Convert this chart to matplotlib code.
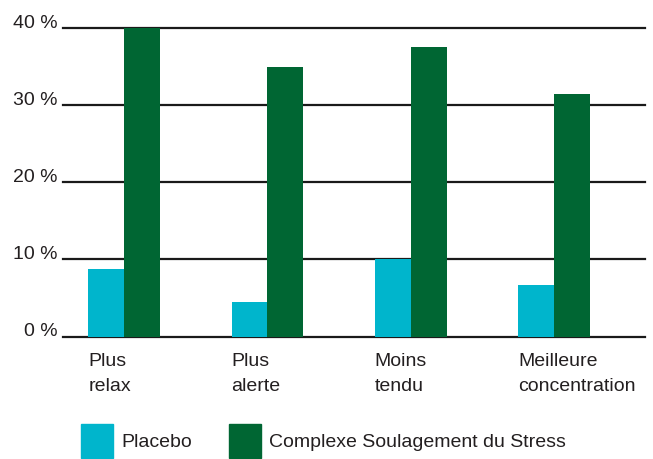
import numpy as np
import matplotlib
matplotlib.use('Agg')
import matplotlib.pyplot as plt
from matplotlib.patches import Patch

matplotlib.rc('font', family=['Liberation Sans', 'DejaVu Sans'])

categories = ['Plus\nrelax', 'Plus\nalerte', 'Moins\ntendu', 'Meilleure\nconcentration']
placebo = [8.7, 4.5, 10.0, 6.7]
complexe = [40.0, 35.0, 37.5, 31.5]
series_names = ['Placebo', 'Complexe Soulagement du Stress']
yticks = [0, 10, 20, 30, 40]

c_placebo = '#00b5cc'
c_complexe = '#006633'
txt = '#231f20'
fs = 14

fig = plt.figure(figsize=(6.53, 4.59), dpi=100)
ax = fig.add_axes([63 / 653, 1 - 336.5 / 459, (645 - 63) / 653, (336.5 - 28) / 459])

x = np.arange(len(categories))
w = 0.25
for t in yticks:
    ax.axhline(t, color='#1a1a1a', lw=1.6, zorder=1, clip_on=False)
ax.bar(x - w / 2, placebo, width=w, color=c_placebo, zorder=2, clip_on=False)
ax.bar(x + w / 2, complexe, width=w, color=c_complexe, zorder=2, clip_on=False)

ax.set_xlim(-0.426, 3.635)
ax.set_ylim(0, 40)
for s in ax.spines.values():
    s.set_visible(False)
ax.set_xticks([])
ax.set_yticks(yticks)
ax.set_yticklabels([f'{t} %' for t in yticks], fontsize=fs, color=txt)
ax.tick_params(axis='y', length=0, pad=4)
for lab in ax.get_yticklabels():
    lab.set_va('baseline')

for i, lab in enumerate(categories):
    ax.text(i - w, -2.1, lab, ha='left', va='top', fontsize=fs, color=txt,
            linespacing=1.65)

handles = [Patch(color=c_placebo), Patch(color=c_complexe)]
fig.legend(handles, series_names, loc='lower left', bbox_to_anchor=(81 / 653, 0.003),
           ncol=2, frameon=False, fontsize=fs, handlelength=1.65, handleheight=2.3,
           handletextpad=0.45, columnspacing=1.85, borderpad=0, borderaxespad=0,
           labelcolor=txt)

fig.savefig('out.png', dpi=100)
